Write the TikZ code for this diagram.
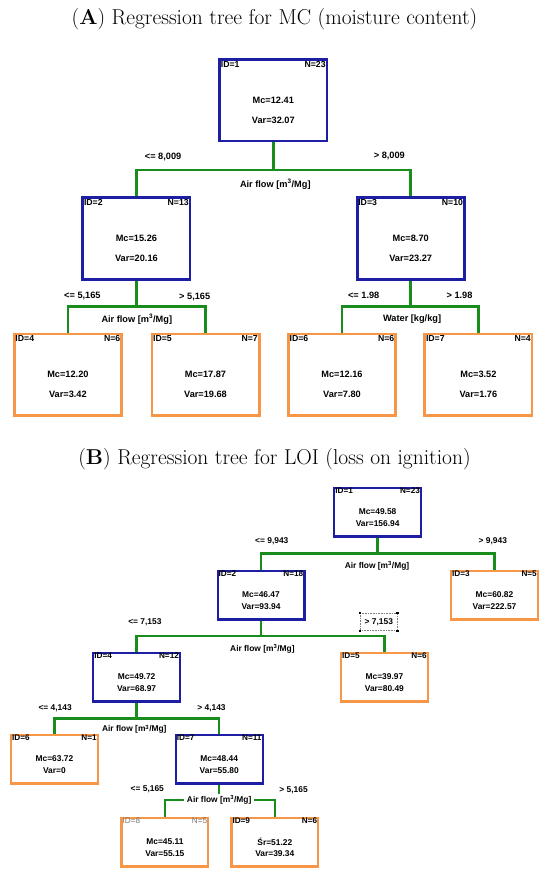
\documentclass[tikz,border=0pt]{standalone}
\usepackage{fontspec}
\newfontfamily\arialf{Liberation Sans}
\usetikzlibrary{calc,backgrounds}
\definecolor{tblue}{RGB}{30,30,165}
\definecolor{torange}{RGB}{247,150,70}
\definecolor{tgreen}{RGB}{25,140,30}
\definecolor{tgray}{RGB}{120,120,120}
\tikzset{
  boxA/.style={draw, line width=2.8pt, minimum width=107.2pt, inner sep=0pt},
  boxB/.style={draw, line width=2.2pt, minimum width=86.8pt, minimum height=48.3pt, inner sep=0pt},
  innernode/.style={draw=tblue}, leafnode/.style={draw=torange},
  txtA/.style={font=\arialf\bfseries\fontsize{9.2}{10}\selectfont, inner sep=0pt},
  txtB/.style={font=\arialf\bfseries\fontsize{8.4}{10}\selectfont, inner sep=0pt},
  idA/.style={font=\arialf\bfseries\fontsize{8.7}{10}\selectfont, inner sep=0pt},
  idB/.style={font=\arialf\bfseries\fontsize{8.2}{10}\selectfont, inner sep=0pt},
  graylab/.style={font=\arialf\fontsize{8.2}{10}\selectfont, text=tgray},
  plainlab/.style={},
  connA/.style={draw=tgreen, line width=2.8pt},
  connB/.style={draw=tgreen, line width=2.4pt},
  titlestyle/.style={font=\fontsize{21.5}{26}\selectfont, inner sep=0pt, anchor=base},
  handle/.style={fill=black, minimum size=2.4pt, inner sep=0pt},
}
% name, style, cx, top, bottom, id, n, mc, var
\newcommand\anode[9]{%
  \node[boxA,#2,minimum height={#5-#4-2.8}] (#1) at (#3,{(#4+#5)/2}) {};
  \node[idA,anchor=west] (#1id) at ({#3-52.6},{#4+6}) {ID=#6};
  \node[idA,anchor=east] (#1n) at ({#3+52.5},{#4+6}) {N=#7};
  \node[txtA] (#1mc) at (#3,{#4+41.5}) {Mc=#8};
  \node[txtA] (#1var) at (#3,{#4+62}) {Var=#9};
}
% name, style, cx, top, id, n, mcline, var, idstyle
\newcommand\bnode[9]{%
  \node[boxB,#2] (#1) at (#3,{#4+25.25}) {};
  \node[idB,#9,anchor=west] (#1id) at ({#3-42.5},{#4+3.3}) {ID=#5};
  \node[idB,#9,anchor=east] (#1n) at ({#3+42.5},{#4+3.3}) {N=#6};
  \node[txtB] (#1mc) at (#3,{#4+24.7}) {#7};
  \node[txtB] (#1var) at (#3,{#4+36.8}) {Var=#8};
}
\begin{document}
\begin{tikzpicture}[x=1pt,y=-1pt]
\useasboundingbox (0,0) rectangle (550,874);

% ---------- (A) ----------
\node[titlestyle] (ta) at (274.5,24.5) {(\textbf{A}) Regression tree for MC (moisture content)};

\anode{a1}{innernode}{273.3}{58.5}{142.5}{1}{23}{12.41}{32.07}
\anode{a2}{innernode}{136.4}{196.5}{280.5}{2}{13}{15.26}{20.16}
\anode{a3}{innernode}{410.7}{196.5}{280.5}{3}{10}{8.70}{23.27}
\anode{a4}{leafnode}{67.9}{332.5}{416.5}{4}{6}{12.20}{3.42}
\anode{a5}{leafnode}{205.5}{332.5}{416.5}{5}{7}{17.87}{19.68}
\anode{a6}{leafnode}{342}{332.5}{416.5}{6}{6}{12.16}{7.80}
\anode{a7}{leafnode}{478.4}{332.5}{416.5}{7}{4}{3.52}{1.76}

\coordinate (a1j) at (273.3,170);
\coordinate (a2j) at (136.4,306.7);
\coordinate (a3j) at (410.7,306.7);

\node[txtA] (la1) at (163.1,156.7) {<= 8,009};
\node[txtA] (la2) at (389.3,156) {> 8,009};
\node[txtA] (la3) at (275.3,184) {Air flow [m\textsuperscript{3}/Mg]};
\node[txtA] (la4) at (82.4,295.7) {<= 5,165};
\node[txtA] (la5) at (194.7,296.7) {> 5,165};
\node[txtA] (la6) at (136.8,319.3) {Air flow [m\textsuperscript{3}/Mg]};
\node[txtA] (la7) at (363.7,295.7) {<= 1.98};
\node[txtA] (la8) at (459.5,295.7) {> 1.98};
\node[txtA] (la9) at (412.1,319.3) {Water [kg/kg]};

% ---------- (B) ----------
\node[titlestyle] (tb) at (274.5,464.5) {(\textbf{B}) Regression tree for LOI (loss on ignition)};

\bnode{b1}{innernode}{377.6}{487}{1}{23}{Mc=49.58}{156.94}{plainlab}
\bnode{b2}{innernode}{261}{570}{2}{18}{Mc=46.47}{93.94}{plainlab}
\bnode{b3}{leafnode}{494.5}{570}{3}{5}{Mc=60.82}{222.57}{plainlab}
\bnode{b4}{innernode}{136.6}{652}{4}{12}{Mc=49.72}{68.97}{plainlab}
\bnode{b5}{leafnode}{384.4}{652}{5}{6}{Mc=39.97}{80.49}{plainlab}
\bnode{b6}{leafnode}{54.4}{734}{6}{1}{Mc=63.72}{0}{plainlab}
\bnode{b7}{innernode}{219.2}{734}{7}{11}{Mc=48.44}{55.80}{plainlab}
\bnode{b8}{leafnode}{164.9}{817}{8}{5}{Mc=45.11}{55.15}{graylab}
\bnode{b9}{leafnode}{274.8}{817}{9}{6}{Śr=51.22}{39.34}{plainlab}

\coordinate (b1j) at (377.6,553.3);
\coordinate (b2j) at (261,635.7);
\coordinate (b4j) at (136.6,718.3);
\coordinate (b7j) at (219.2,800);

\node[txtB] (lb1) at (271.8,541.7) {<= 9,943};
\node[txtB] (lb2) at (492.8,541.7) {> 9,943};
\node[txtB] (lb3) at (377,566) {Air flow [m\textsuperscript{3}/Mg]};
\node[txtB] (lb4) at (144.9,622.3) {<= 7,153};
\node[txtB] (lb5) at (378.8,622.3) {> 7,153};
\node[draw=gray, densely dotted, line width=0.6pt, minimum width=37pt, minimum height=17.4pt, inner sep=0pt] (sel) at (378.8,622) {};
\node[handle] (h1) at (sel.north west) {};
\node[handle] (h2) at (sel.north east) {};
\node[handle] (h3) at (sel.south west) {};
\node[handle] (h4) at (sel.south east) {};
\node[txtB] (lb6) at (262.4,649) {Air flow [m\textsuperscript{3}/Mg]};
\node[txtB] (lb7) at (55.1,708.3) {<= 4,143};
\node[txtB] (lb8) at (211.5,708.3) {> 4,143};
\node[txtB] (lb9) at (134.3,729.3) {Air flow [m\textsuperscript{3}/Mg]};
\node[txtB] (lb10) at (147.3,789.3) {<= 5,165};
\node[txtB] (lb11) at (293.6,790.7) {> 5,165};
\node[txtB, fill=white, inner xsep=3pt, inner ysep=2pt] (lb12) at (219.2,800) {Air flow [m\textsuperscript{3}/Mg]};

\begin{scope}[on background layer]
  \draw[connA] (a1.south) -- (a1j);
  \draw[connA] (a2.north) |- (a1j) -| (a3.north);
  \draw[connA] (a2.south) -- (a2j);
  \draw[connA] (a4.north) |- (a2j) -| (a5.north);
  \draw[connA] (a3.south) -- (a3j);
  \draw[connA] (a6.north) |- (a3j) -| (a7.north);

  \draw[connB] (b1.south) -- (b1j);
  \draw[connB] (b2.north) |- (b1j) -| (b3.north);
  \draw[connB] (b2.south) -- (b2j);
  \draw[connB] (b4.north) |- (b2j) -| (b5.north);
  \draw[connB] (b4.south) -- (b4j);
  \draw[connB] (b6.north) |- (b4j) -| (b7.north);
  \draw[connB] (b7.south) -- (b7j);
  \draw[connB] (b8.north) |- (b7j) -| (b9.north);
\end{scope}
\end{tikzpicture}
\end{document}
